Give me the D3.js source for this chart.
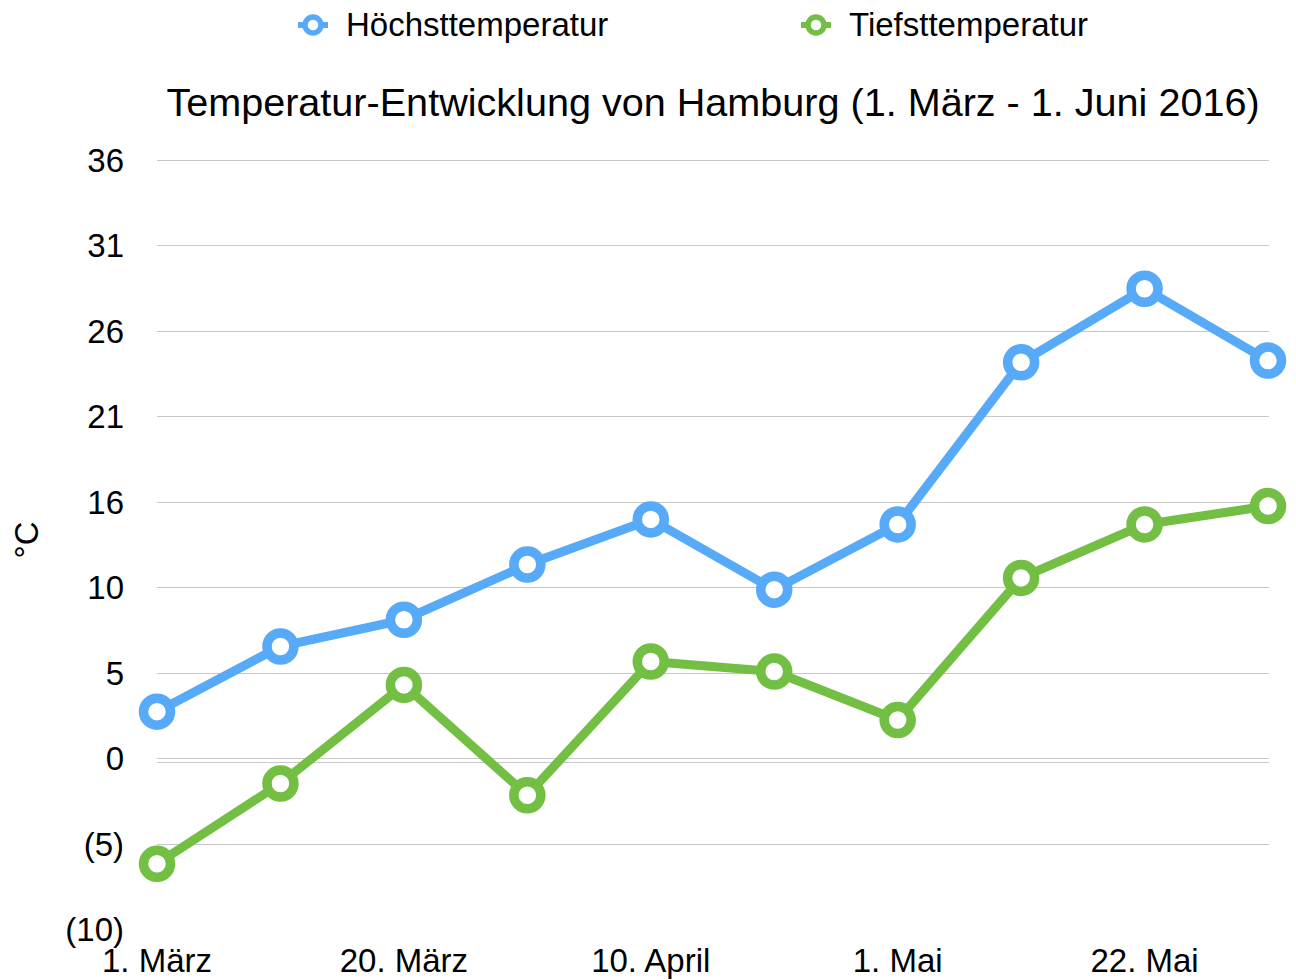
<!DOCTYPE html>
<html>
<head>
<meta charset="utf-8">
<script src="https://cdn.jsdelivr.net/npm/d3@7"></script>
<style>
  body { margin: 0; background: #fff; }
  text { font-family: "Liberation Sans", Arial, sans-serif; fill: #000; }
</style>
</head>
<body>
<div id="chart"></div>
<script>
// categories (dates) and series
const dates = ["1. März", "10. März", "20. März", "31. März", "10. April", "20. April", "1. Mai", "11. Mai", "22. Mai", "1. Juni"];
const highTemps = [3, 6.9, 8.5, 11.8, 14.5, 10.3, 14.2, 23.9, 28.3, 24];
const lowTemps = [-6.1, -1.3, 4.6, -2, 6, 5.4, 2.5, 11, 14.2, 15.3];
const seriesNames = ["Höchsttemperatur", "Tiefsttemperatur"];
const shownLabels = ["1. März", "20. März", "10. April", "1. Mai", "22. Mai"];
const yMin = -10, yMax = 36;

function drawChart() {
    const div_id = "#chart";
    const width = 1296, height = 980;
    const colors = ["#56aaf8", "#72bf44"];

    let svg = d3.select(div_id)
        .append("svg")
        .attr("width", width)
        .attr("height", height);

    let x = d3.scalePoint().domain(dates).range([157, 1268]);
    let y = d3.scaleLinear().domain([yMin, yMax]).range([929, 160]);

    // 10 evenly spaced ticks from min to max
    let ticks = d3.range(10).map(i => yMin + i * (yMax - yMin) / 9);
    let fmt = function (v) {
        let r = Math.round(v);
        return r < 0 ? "(" + (-r) + ")" : String(r);
    };

    // gridlines (not at the bottom)
    svg.append("g")
        .selectAll("line")
        .data(ticks.slice(1))
        .enter()
        .append("line")
        .attr("x1", 157).attr("x2", 1269)
        .attr("y1", d => Math.round(y(d)) + 0.5)
        .attr("y2", d => Math.round(y(d)) + 0.5)
        .style("stroke", "#c8c8c8")
        .style("stroke-width", 1);

    // zero axis line
    svg.append("line")
        .attr("x1", 157).attr("x2", 1269)
        .attr("y1", Math.round(y(0)) + 0.5)
        .attr("y2", Math.round(y(0)) + 0.5)
        .style("stroke", "#c8c8c8")
        .style("stroke-width", 1);

    // y tick labels
    svg.append("g")
        .selectAll("text")
        .data(ticks)
        .enter()
        .append("text")
        .attr("x", 124)
        .attr("y", d => y(d) + 12)
        .attr("text-anchor", "end")
        .style("font-size", "33px")
        .text(fmt);

    // x labels
    svg.append("g")
        .selectAll("text")
        .data(shownLabels)
        .enter()
        .append("text")
        .attr("x", d => x(d))
        .attr("y", 972)
        .attr("text-anchor", "middle")
        .style("font-size", "33px")
        .text(d => d);

    // y axis title
    svg.append("text")
        .attr("transform", "translate(38,540) rotate(-90)")
        .attr("text-anchor", "middle")
        .style("font-size", "33px")
        .text("°C");

    // title
    svg.append("text")
        .attr("x", 713)
        .attr("y", 116)
        .attr("text-anchor", "middle")
        .style("font-size", "39.6px")
        .text("Temperatur-Entwicklung von Hamburg (1. März - 1. Juni 2016)");

    // series
    let series = [highTemps, lowTemps];
    let line = d3.line()
        .x((d, i) => x(dates[i]))
        .y(d => y(d));

    series.forEach(function (vals, k) {
        svg.append("path")
            .datum(vals)
            .attr("d", line)
            .attr("fill", "none")
            .style("stroke", colors[k])
            .style("stroke-width", 9)
            .style("stroke-linejoin", "round");

        svg.append("g")
            .selectAll("circle")
            .data(vals)
            .enter()
            .append("circle")
            .attr("cx", (d, i) => x(dates[i]))
            .attr("cy", d => y(d))
            .attr("r", 13.5)
            .attr("fill", "white")
            .style("stroke", colors[k])
            .style("stroke-width", 9.5);
    });

    // legend
    let legendX = [313, 816];
    seriesNames.forEach(function (name, k) {
        svg.append("line")
            .attr("x1", legendX[k] - 15).attr("x2", legendX[k] + 15)
            .attr("y1", 25).attr("y2", 25)
            .style("stroke", colors[k])
            .style("stroke-width", 6);
        svg.append("circle")
            .attr("cx", legendX[k]).attr("cy", 25)
            .attr("r", 8)
            .attr("fill", "white")
            .style("stroke", colors[k])
            .style("stroke-width", 5.5);
        svg.append("text")
            .attr("x", legendX[k] + 33)
            .attr("y", 36)
            .style("font-size", "33px")
            .text(name);
    });
}
drawChart();
</script>
</body>
</html>
